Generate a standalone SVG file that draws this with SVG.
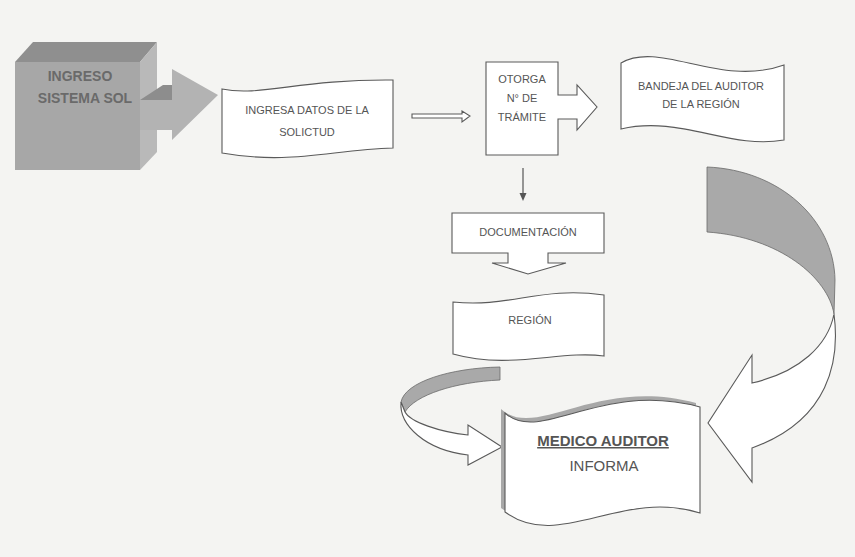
<svg xmlns="http://www.w3.org/2000/svg" width="855" height="557" viewBox="0 0 855 557">
<style>
.ln{fill:#ffffff;stroke:#5a5a5a;stroke-width:1.1;stroke-linejoin:miter}
.t{font-family:"Liberation Sans",Arial,sans-serif;font-size:11px;fill:#555555;text-anchor:middle}
.big{font-family:"Liberation Sans",Arial,sans-serif;font-size:14px;font-weight:bold;fill:#6a6a6a;text-anchor:middle}
.md{font-family:"Liberation Sans",Arial,sans-serif;font-size:15px;fill:#555555;text-anchor:middle}
.gr{fill:#a9a9a9;stroke:#6a6a6a;stroke-width:0.8}
</style>
<rect x="0" y="0" width="855" height="557" fill="#f4f4f2"/>

<g id="ingreso-sistema-sol">
  <polygon points="15,62 33,42 157,42 140,62" fill="#8f8f8f"/>
  <polygon points="140,62 157,42 157,152 140,170" fill="#b9b9b9"/>
  <rect x="15" y="62" width="125" height="108" fill="#a7a7a7"/>
  <text class="big" x="80" y="81">INGRESO</text>
  <text class="big" x="85" y="103">SISTEMA SOL</text>
</g>

<g id="connectors">
  <g id="big-arrow">
    <polygon points="140,100 172,100 172,69 218,95 172,140 172,130 140,130" fill="#b3b3b3"/>
    <polygon points="140,100 163,85 172,85 172,100" fill="#8d8d8d"/>
  </g>
  <polygon id="arrow-ingresa-otorga" class="ln" points="412,114 462,114 462,111 470,116 462,122 462,118 412,118"/>
  <g id="arrow-otorga-documentacion">
    <line x1="523" y1="168" x2="523" y2="194" stroke="#555" stroke-width="1.2"/>
    <polygon points="519.5,193 526.5,193 523,201" fill="#555"/>
  </g>
  <g id="curved-arrow-bandeja-medico">
    <path class="gr" d="M707,167 C780,170 834,220 835,280 L834,314 C828,278 780,237 707,232 Z"/>
    <path class="ln" d="M834,314 C840,360 830,420 752,448 L752,482 L708,423 L752,355 L752,383 C800,372 828,345 834,314 Z"/>
  </g>
  <g id="curved-arrow-region-medico">
    <path class="gr" d="M500,367 C450,368 405,382 401,402 L405,412 C415,395 455,382 500,380 Z"/>
    <path class="ln" d="M401,402 C399,425 425,450 468,455 L468,465 L502,447 L468,425 L468,435 C440,432 410,422 405,412 Z"/>
  </g>
</g>

<g id="ingresa-datos">
  <path class="ln" d="M222,89 C260,97 300,79 393,80 L393,148 C330,150 290,165 222,153 Z"/>
  <text class="t" x="307" y="114">INGRESA DATOS DE LA</text>
  <text class="t" x="307" y="136">SOLICTUD</text>
</g>

<g id="otorga">
  <path class="ln" d="M486,62 L558,62 L558,95 L577,95 L577,85 L597,107 L577,130 L577,119 L558,119 L558,155 L486,155 Z"/>
  <text class="t" x="522" y="83">OTORGA</text>
  <text class="t" x="522" y="102">N° DE</text>
  <text class="t" x="522" y="121">TRÁMITE</text>
</g>

<g id="bandeja">
  <path class="ln" d="M621,63 C660,40 720,88 784,65 L784,140 C730,150 680,115 621,129 Z"/>
  <text class="t" x="701" y="90">BANDEJA DEL AUDITOR</text>
  <text class="t" x="701" y="108">DE LA REGIÓN</text>
</g>

<g id="documentacion">
  <path class="ln" d="M452,213 L604,213 L604,253 L548,253 L548,263 L566,263 L528,274 L492,263 L508,263 L508,253 L452,253 Z"/>
  <text class="t" x="528" y="236">DOCUMENTACIÓN</text>
</g>

<g id="region">
  <path class="ln" d="M453,302 C510,308 540,286 604,295 L604,356 C560,350 510,370 453,354 Z"/>
  <text class="t" x="530" y="324">REGIÓN</text>
</g>

<g id="medico-auditor">
  <path d="M501,409 C536,441 596,376 696,403 L696,509 C616,484 556,548 501,508 Z" fill="#a8a8a8"/>
  <path class="ln" d="M505,413 C540,445 600,380 700,407 L700,513 C620,488 560,552 505,512 Z"/>
  <text class="md" x="603" y="446" font-weight="bold" text-decoration="underline">MEDICO AUDITOR</text>
  <text class="md" x="604" y="471">INFORMA</text>
</g>
</svg>
